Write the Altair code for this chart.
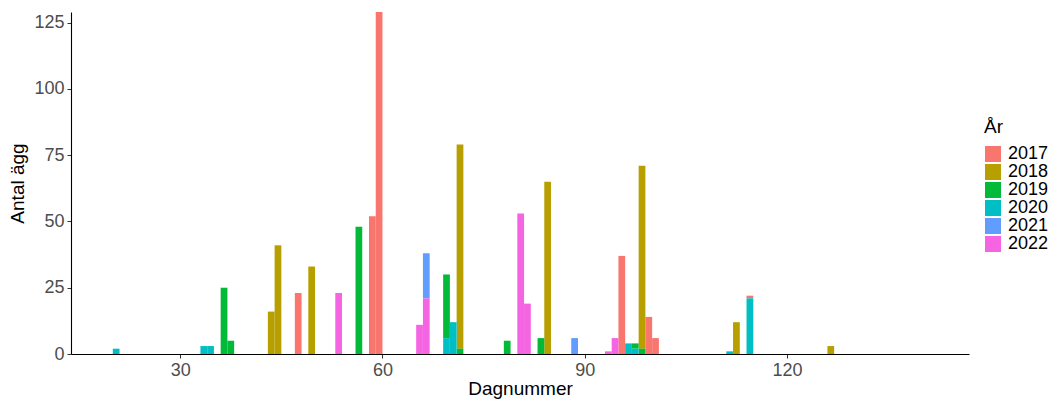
import altair as alt
import pandas as pd

years = ["2017", "2018", "2019", "2020", "2021", "2022"]
colors = ["#F8766D", "#B79F00", "#00BA38", "#00BFC4", "#619CFF", "#F564E3"]

days_2017 = [47, 58, 59, 95, 99, 100, 114]
vals_2017 = [23, 52, 129, 37, 14, 6, 1]
days_2018 = [43, 44, 49, 71, 84, 98, 112, 126]
vals_2018 = [16, 41, 33, 77, 65, 69, 12, 3]
days_2019 = [36, 37, 56, 69, 71, 78, 83, 97, 98]
vals_2019 = [25, 5, 48, 24, 2, 5, 6, 2, 2]
days_2020 = [20, 33, 34, 69, 70, 96, 97, 111, 114]
vals_2020 = [2, 3, 3, 6, 12, 4, 2, 1, 21]
days_2021 = [66, 88]
vals_2021 = [17, 6]
days_2022 = [53, 65, 66, 80, 81, 93, 94]
vals_2022 = [23, 11, 21, 53, 19, 1, 6]

x_ticks = [30, 60, 90, 120]
y_ticks = [0, 25, 50, 75, 100, 125]

series = {
    "2017": (days_2017, vals_2017),
    "2018": (days_2018, vals_2018),
    "2019": (days_2019, vals_2019),
    "2020": (days_2020, vals_2020),
    "2021": (days_2021, vals_2021),
    "2022": (days_2022, vals_2022),
}
rows = []
for yr, (ds, vs) in series.items():
    for d, v in zip(ds, vs):
        rows.append({"start": d, "end": d + 1, "year": yr, "value": v})
df = pd.DataFrame(rows)

FONT = "Liberation Sans"

chart = (
    alt.Chart(df)
    .transform_stack(
        stack="value",
        groupby=["start"],
        as_=["y0", "y1"],
        sort=[alt.SortField("year", order="descending")],
    )
    .mark_rect()
    .encode(
        x=alt.X(
            "start:Q",
            scale=alt.Scale(domain=[13.8, 147], nice=False, zero=False),
            axis=alt.Axis(
                values=x_ticks,
                title="Dagnummer",
                titleX=449,
                titleY=25,
                labelPadding=3,
            ),
        ),
        x2="end:Q",
        y=alt.Y(
            "y0:Q",
            scale=alt.Scale(domain=[0, 129], nice=False),
            axis=alt.Axis(
                values=y_ticks,
                title="Antal ägg",
                titleX=-44,
                titleY=171,
                labelPadding=3,
            ),
        ),
        y2="y1:Q",
        color=alt.Color(
            "year:N",
            scale=alt.Scale(domain=years, range=colors),
            legend=alt.Legend(
                title="År",
                orient="none",
                legendX=913,
                legendY=106,
                symbolType="square",
                symbolSize=256,
                symbolStrokeWidth=0,
                symbolOpacity=1,
                rowPadding=0,
                labelFont=FONT,
                labelFontSize=18,
                labelColor="#000000",
                titleFont=FONT,
                titleFontSize=19,
                titleFontWeight="normal",
                titleColor="#000000",
                titlePadding=8,
                labelOffset=6,
            ),
        ),
    )
    .properties(
        width=898,
        height=342,
        autosize=alt.AutoSizeParams(type="none"),
        padding={"left": 63, "top": 4, "right": 81, "bottom": 47},
    )
    .configure_view(stroke=None)
    .configure_axis(
        grid=False,
        domainColor="#000000",
        domainWidth=1.1,
        tickColor="#333333",
        tickSize=4,
        tickWidth=1,
        labelColor="#4D4D4D",
        labelFont=FONT,
        labelFontSize=18,
        titleFont=FONT,
        titleFontSize=19,
        titleFontWeight="normal",
        titleColor="#000000",
    )
)

chart.save("out.html", embed_options={"renderer": "svg", "actions": False})
